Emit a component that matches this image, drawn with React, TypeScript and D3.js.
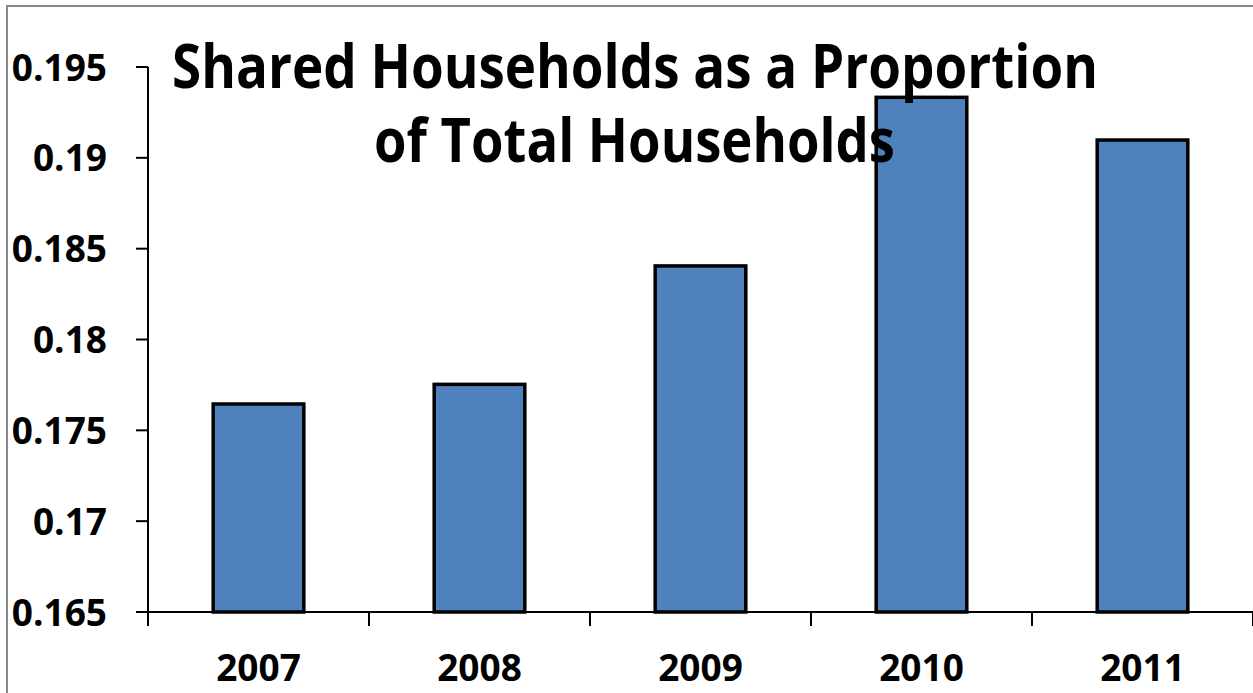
import React from "react";
import * as d3 from "d3";

const years = ["2007", "2008", "2009", "2010", "2011"];
const shares = [0.17645, 0.17753, 0.18405, 0.19333, 0.19098];
const yTicks = [0.165, 0.17, 0.175, 0.18, 0.185, 0.19, 0.195];
const yTickLabels = ["0.165", "0.17", "0.175", "0.18", "0.185", "0.19", "0.195"];
const titleLines = ["Shared Households as a Proportion", "of Total Households"];

export default function App() {
  const W = 1253, H = 693;
  const left = 148, right = 1253, top = 67, bottom = 612;
  const x = d3.scaleBand<string>().domain(years).range([left, right]).paddingInner(0.59).paddingOuter(0.295);
  const xb = d3.scaleBand<string>().domain(years).range([left, right]);
  const y = d3.scaleLinear().domain([0.165, 0.195]).range([bottom, top]);
  const font = "'Open Sans', sans-serif";
  return (
    <svg width={W} height={H} style={{ position: "absolute", left: 0, top: 0, background: "#fff" }}>
      <rect x={7} y={6} width={1400} height={900} fill="#fff" stroke="#888" strokeWidth={2} />
      {years.map((yr, i) => (
        <rect key={yr} x={x(yr)!} y={y(shares[i])} width={x.bandwidth()} height={bottom - y(shares[i])}
          fill="#4F81BD" stroke="#000" strokeWidth={3.5} />
      ))}
      <line x1={left} x2={left} y1={top} y2={bottom} stroke="#000" strokeWidth={2} />
      <line x1={136} x2={right} y1={bottom} y2={bottom} stroke="#000" strokeWidth={2} />
      {yTicks.map((t, i) => (
        <g key={t}>
          <line x1={136} x2={left} y1={y(t)} y2={y(t)} stroke="#000" strokeWidth={2} />
          <text x={107} y={y(t) + 13.5} textAnchor="end" fontFamily={font} fontWeight="bold" fontSize={37} fill="#000">{yTickLabels[i]}</text>
        </g>
      ))}
      {years.concat(["end"]).map((yr, i) => {
        const px = left + i * xb.bandwidth();
        return <line key={yr} x1={px} x2={px} y1={bottom} y2={626} stroke="#000" strokeWidth={2} />;
      })}
      {years.map((yr) => (
        <text key={yr} x={xb(yr)! + xb.bandwidth() / 2} y={681} textAnchor="middle" fontFamily={font} fontWeight="bold" fontSize={37} fill="#000">{yr}</text>
      ))}
      <text x={172} y={88} textLength={926} lengthAdjust="spacingAndGlyphs" fontFamily={font} fontWeight="bold" fontSize={60} fill="#000">{titleLines[0]}</text>
      <text x={374} y={162} textLength={521} lengthAdjust="spacingAndGlyphs" fontFamily={font} fontWeight="bold" fontSize={60} fill="#000">{titleLines[1]}</text>
    </svg>
  );
}
